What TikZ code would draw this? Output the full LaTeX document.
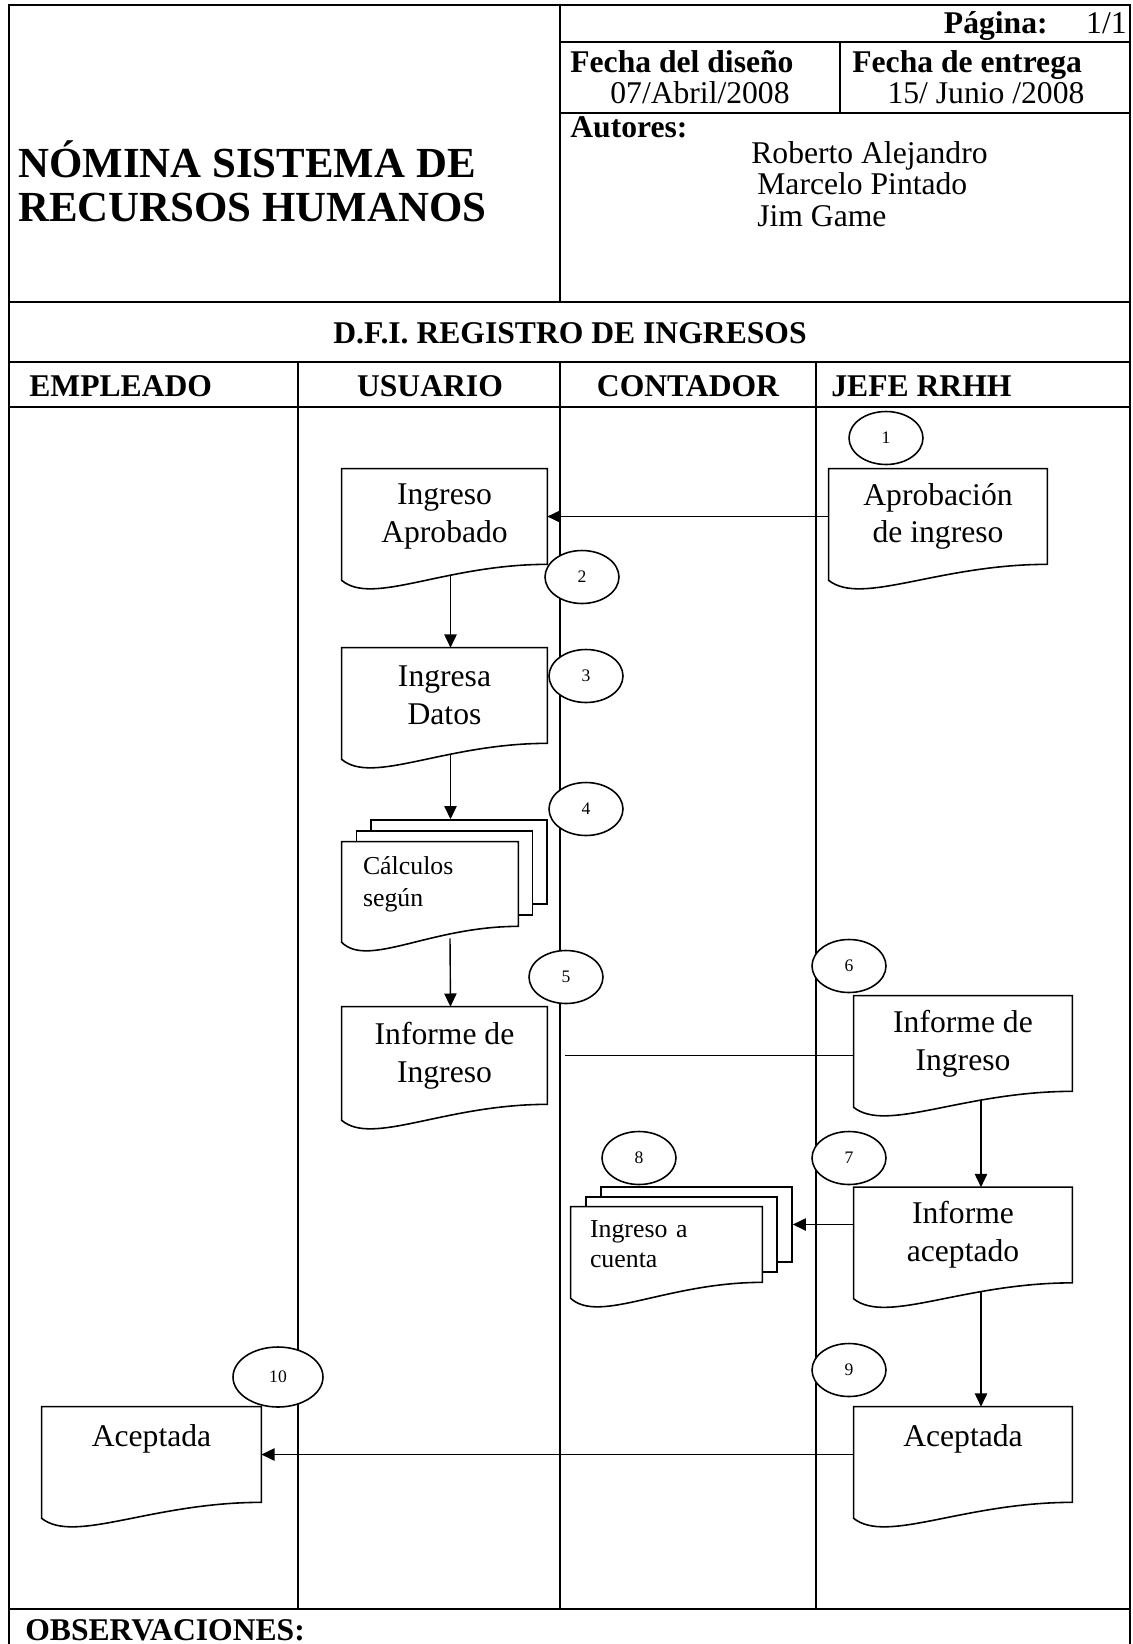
\documentclass[tikz,border=0pt]{standalone}
\usepackage{fontspec}
\setmainfont{Liberation Serif}
\usetikzlibrary{shapes.geometric,arrows.meta,calc}
\pgfdeclarelayer{fondo}
\pgfsetlayers{fondo,main}

\begin{document}
\begin{tikzpicture}[x=0.02cm,y=-0.02cm,
	marco/.style={line width=1.2pt},
	carril/.style={line width=0.6pt},
	docu/.style={inner sep=0pt,align=center,minimum width=4.1cm,minimum height=1.9cm,font=\fontsize{18}{21.5}\selectfont},
	hoja/.style={draw,fill=white,line width=0.9pt,inner sep=0pt},
	paso/.style={ellipse,draw,fill=white,line width=0.9pt,inner sep=0pt,minimum width=1.48cm,minimum height=1.06cm,font=\fontsize{10}{12}\selectfont},
	flecha/.style={line width=0.8pt,-{Triangle[length=7.5pt,width=7pt]}},
	negrita/.style={font=\bfseries\fontsize{18}{21}\selectfont,inner sep=0pt},
	normal/.style={font=\fontsize{18}{21}\selectfont,inner sep=0pt}]
	\useasboundingbox (0,0) rectangle (1133,1644);
	% marco y encabezado
	\draw[marco] (9,1644) -- (9,5) -- (1130,5) -- (1130,1644);
	\draw[marco] (560,5) -- (560,302);
	\draw[marco] (560,42) -- (1130,42);
	\draw[marco] (840,42) -- (840,113);
	\draw[marco] (560,113) -- (1130,113);
	\draw[marco] (9,302) -- (1130,302);
	\draw[marco] (9,362) -- (1130,362);
	\draw[marco] (9,407) -- (1130,407);
	\draw[marco] (9,1609) -- (1130,1609);
	% carriles
	\foreach \x in {298,560,816}
		\draw[carril] (\x,362) -- (\x,1609);
	
	\node[anchor=west,align=left,inner sep=0pt,font=\bfseries\fontsize{24.4}{25}\selectfont] (titulo) at (18,181) {NÓMINA SISTEMA DE\\RECURSOS HUMANOS};
	\node[negrita,anchor=base east] (pag) at (1048,33) {Página:};
	\node[normal,anchor=base east] (pagnum) at (1127,33) {1/1};
	\node[negrita,anchor=base west] (fdis) at (570,72) {Fecha del diseño};
	\node[normal,anchor=base] (fdisv) at (700,103) {07/Abril/2008};
	\node[negrita,anchor=base west] (fent) at (852,72) {Fecha de entrega};
	\node[normal,anchor=base] (fentv) at (986,103) {15/ Junio /2008};
	\node[negrita,anchor=base west] (aut) at (570,137) {Autores:};
	\node[normal,anchor=base west] (aut1) at (751,163) {Roberto Alejandro};
	\node[normal,anchor=base west] (aut2) at (757,194.5) {Marcelo Pintado};
	\node[normal,anchor=base west] (aut3) at (757,226) {Jim Game};
	\node[negrita] (dfi) at (570,333) {D.F.I. REGISTRO DE INGRESOS};
	\node[negrita,anchor=west] (emp) at (29,386) {EMPLEADO};
	\node[negrita] (usu) at (430,386) {USUARIO};
	\node[negrita] (con) at (688,386) {CONTADOR};
	\node[negrita,anchor=west] (jefe) at (831,386) {JEFE RRHH};
	\node[negrita,anchor=west] (obs) at (25,1630) {OBSERVACIONES:};
	
	% documentos
	\node[docu] (ia) at (444.5,516.5) {Ingreso\\Aprobado};
	\node[docu,minimum width=4.36cm] (apr) at (938,516.5) {Aprobación\\de ingreso};
	\node[docu] (idat) at (444.5,695.5) {Ingresa\\Datos};
	\node[docu,minimum width=3.52cm,minimum height=1.68cm,align=left,text width=2.68cm,font=\fontsize{14.7}{18}\selectfont] (calc) at (430,884) {Cálculos\\según};
	\node[docu,minimum height=1.94cm] (inf) at (444.5,1055.5) {Informe de\\Ingreso};
	\node[docu,minimum width=4.36cm] (infj) at (963,1043.5) {Informe de\\Ingreso};
	\node[docu,minimum width=4.36cm] (inac) at (963,1235) {Informe\\aceptado};
	\node[docu,minimum width=3.82cm,minimum height=1.5cm,align=left,text width=3.06cm,font=\fontsize{14.7}{17}\selectfont] (cta) at (666.5,1244.5) {Ingreso a\\cuenta};
	\node[docu,minimum width=4.38cm] (acem) at (151.5,1454.5) {Aceptada\\\mbox{}};
	\node[docu,minimum width=4.36cm] (acj) at (963,1454.5) {Aceptada\\\mbox{}};
	
	\begin{pgfonlayer}{fondo}
		\node[hoja,minimum width=3.52cm,minimum height=1.68cm] (calcB) at (459,862) {};
		\node[hoja,minimum width=3.52cm,minimum height=1.68cm] (calcM) at (444.5,873) {};
		\node[hoja,minimum width=3.82cm,minimum height=1.5cm] (ctaB) at (696.5,1224.5) {};
		\node[hoja,minimum width=3.82cm,minimum height=1.5cm] (ctaM) at (681.5,1234.5) {};
		\foreach \nom in {ia,apr,idat,calc,inf,infj,inac,cta,acem,acj}
			\draw[line width=0.9pt,fill=white] (\nom.north west) -- (\nom.north east) -- (\nom.south east)
			.. controls ($(\nom.south east)!0.5!(\nom.south west)$) and ($(\nom.south west)!0.15!(\nom.south east)+(0,42)$)
			.. ($(\nom.south west)+(0,16)$) -- cycle;
	\end{pgfonlayer}
	
	% pasos
	\node[paso] (p1) at (886,438) {1};
	\node[paso] (p2) at (582,577) {2};
	\node[paso] (p3) at (586,676) {3};
	\node[paso] (p4) at (586,809) {4};
	\node[paso] (p5) at (566,977) {5};
	\node[paso] (p6) at (849,966) {6};
	\node[paso] (p7) at (849,1158) {7};
	\node[paso] (p8) at (639,1158) {8};
	\node[paso] (p9) at (849,1370) {9};
	\node[paso,minimum width=1.8cm,minimum height=1.2cm] (p10) at (278,1377) {10};
	
	% flujo
	\draw[flecha] (apr.west) -- (ia.east);
	\draw[flecha] ([shift={(6,11)}]ia.south) -- ([shift={(6,0)}]idat.north);
	\draw[flecha] ([shift={(6,11)}]idat.south) -- ($(idat.south |- calcB.north)+(6,0)$);
	\draw[flecha] ([shift={(20,12)}]calc.south) -- ([shift={(6,0)}]inf.north);
	\draw[line width=0.8pt] ([shift={(18,0)}]inf.east) -- (inf.east -| infj.west);
	\draw[flecha] ([shift={(18,9)}]infj.south) -- ([shift={(18,0)}]inac.north);
	\draw[flecha] (inac.west |- ctaB.east) -- (ctaB.east);
	\draw[flecha] ([shift={(18,9)}]inac.south) -- ([shift={(18,0)}]acj.north);
	\draw[flecha] (acj.west) -- (acem.east);
\end{tikzpicture}
\end{document}
